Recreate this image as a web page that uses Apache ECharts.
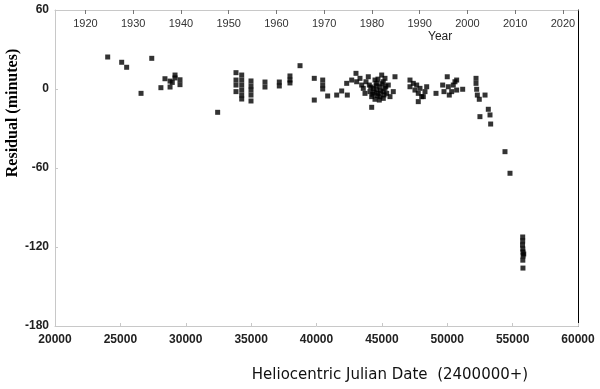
<!DOCTYPE html>
<html>
<head>
<meta charset="utf-8">
<script src="https://cdn.jsdelivr.net/npm/echarts@6/dist/echarts.min.js"></script>
<style>
  html, body { margin: 0; padding: 0; background: #fff; }
  #main { width: 600px; height: 389px; }
</style>
</head>
<body>
<div id="main"></div>
<script>
// HJD - 2400000 of each timing, and O-C residual in minutes
var hjd = [
    24030, 25100, 25480, 26580, 27400, 28100, 28410, 28800, 28800, 28970, 29180, 29180, 29560, 29560,
    32440,
    33843, 33843, 33843, 33843,
    34280, 34280, 34280, 34280, 34280, 34280,
    34990, 34990, 34990, 34990, 34990,
    36060, 36060, 37155, 37155, 37970, 37970, 37970, 38740, 39830, 39830,
    40475, 40475, 40475, 40855, 41545, 41926, 42356, 42310, 42692,
    43020, 43073, 43326, 43456, 43578, 43709, 43785, 43961, 44038, 44091,
    44221, 44221, 44343, 44474, 44474, 44603, 44603, 44726, 44803, 44856, 44856,
    44986, 45108, 45108, 45108, 45238, 45238, 45368, 45490, 45620, 45872, 46003,
    44150, 44400, 44550, 44700, 44900, 45000, 45170, 45300, 44300, 44650,
    47150, 47150, 47403, 47532, 47662, 47784, 47784, 47915, 48045, 48170, 48298, 48427,
    49140, 49650, 49750, 50000, 50080, 50155, 50340, 50460, 50590, 50720, 50720, 51180,
    52200, 52200, 52250, 52300, 52450, 52890, 53140, 53270, 52500, 53320,
    54416, 54799,
    55770, 55770, 55760, 55780, 55790, 55800, 55780, 55790, 55850
];
var residual = [
    24.3, 20.3, 16.5, -3.3, 23.3, 1, 7.8, 6, 1.5, 5, 10.6, 8.4, 7, 3.3,
    -17.7,
    12.4, 6.8, 3, -2,
    10.6, 6.8, 3, -0.8, -4.6, -7.6,
    6.1, 2.3, -0.8, -4.6, -9.1,
    5.3, 1.5, 5.3, 2.3, 9.9, 6.8, 4.6, 17.7, 8.1, -8.4,
    6.8, 3, 0, -5.3, -4.6, -1.5, -4.6, 4.3, 6.8,
    11.9, 5.5, 8.1, 3, 0.5, -3.3, 5.5, 9.3, 3, -2,
    -5.8, -13.9, 0.5, 6.8, -7.8, 4.3, -0.8, -3.3, -8.4, 1.7, -5.8,
    10.6, 5.5, -2, -7.1, 8.1, 0.5, -3.3, 3, -5.8, -2, 9.3,
    1.5, -2.5, 2.5, 7.5, -1.5, 4, -4.5, 2, -4, -5,
    6.8, 1.7, 4.3, -0.8, 3, -3.3, -9.6, 0.5, -5.8, -5.8, -2, 1.7,
    -3.3, 3, -2, 9.3, 1.7, -4.6, -2, 3, 5.5, 6.8, -0.8, -0.2,
    8.1, 4.3, -0.2, -4.6, -7.8, -4.6, -15.4, -19.7, -21, -26.6,
    -47.6, -64,
    -112.4, -115.4, -118.5, -121.5, -123.8, -126.8, -130, -136, -125.3
];
var yearTicks = [1920, 1930, 1940, 1950, 1960, 1970, 1980, 1990, 2000, 2010, 2020];

var points = hjd.map(function (d, i) { return [d, residual[i]]; });

// HJD 2420000 and 2460000 expressed as decimal years
var yearMin = 2000 + (20000 - 51545) / 365.25;
var yearMax = 2000 + (60000 - 51545) / 365.25;

function plain(v) { return String(Math.round(v)); }

var myChart = echarts.init(document.getElementById('main'));

var option = {
    backgroundColor: '#fff',
    animation: false,
    grid: { left: 55, right: 22, top: 10, bottom: 63 },
    xAxis: [
        {
            type: 'value',
            min: 20000,
            max: 60000,
            interval: 5000,
            splitLine: { show: false },
            axisLine: { onZero: false, lineStyle: { color: '#c8c8c8' } },
            axisTick: { inside: true, length: 3, lineStyle: { color: '#c8c8c8' } },
            axisLabel: {
                margin: 8,
                color: '#222',
                fontFamily: 'Liberation Sans',
                fontWeight: 'bold',
                fontSize: 12,
                formatter: plain
            }
        },
        {
            type: 'value',
            position: 'top',
            min: yearMin,
            max: yearMax,
            splitLine: { show: false },
            axisLine: { onZero: false, lineStyle: { color: '#c8c8c8' } },
            axisTick: { inside: true, length: 4, customValues: yearTicks, lineStyle: { color: '#777' } },
            axisLabel: {
                inside: true,
                margin: 8,
                customValues: yearTicks,
                color: '#333',
                fontFamily: 'Liberation Sans',
                fontSize: 11,
                formatter: plain
            }
        }
    ],
    yAxis: [
        {
            type: 'value',
            min: -180,
            max: 60,
            interval: 60,
            splitLine: { show: false },
            axisLine: { show: true, onZero: false, lineStyle: { color: '#c8c8c8' } },
            axisTick: { show: true, inside: true, length: 3, lineStyle: { color: '#c8c8c8' } },
            axisLabel: {
                margin: 6,
                color: '#222',
                fontFamily: 'Liberation Sans',
                fontWeight: 'bold',
                fontSize: 12
            }
        },
        {
            type: 'value',
            position: 'right',
            min: -180,
            max: 60,
            splitLine: { show: false },
            axisLine: { show: true, onZero: false, lineStyle: { color: '#000' } },
            axisTick: { show: false },
            axisLabel: { show: false }
        }
    ],
    graphic: [
        {
            type: 'text',
            left: 428,
            top: 31,
            style: { text: 'Year', fill: '#222', font: '12px "Liberation Sans"' }
        },
        {
            type: 'text',
            x: 13,
            y: 113,
            rotation: Math.PI / 2,
            style: {
                text: 'Residual (minutes)',
                fill: '#000',
                font: 'bold 16px "Liberation Serif"',
                align: 'center',
                verticalAlign: 'middle'
            }
        },
        {
            type: 'text',
            x: 390,
            y: 375,
            style: {
                text: 'Heliocentric Julian Date  (2400000+)',
                fill: '#111',
                font: '15px "DejaVu Sans"',
                align: 'center',
                verticalAlign: 'middle'
            }
        }
    ],
    series: [
        {
            type: 'scatter',
            xAxisIndex: 0,
            yAxisIndex: 0,
            symbol: 'rect',
            symbolSize: 5,
            itemStyle: { color: '#000' },
            data: points
        }
    ]
};
myChart.setOption(option);
</script>
</body>
</html>
